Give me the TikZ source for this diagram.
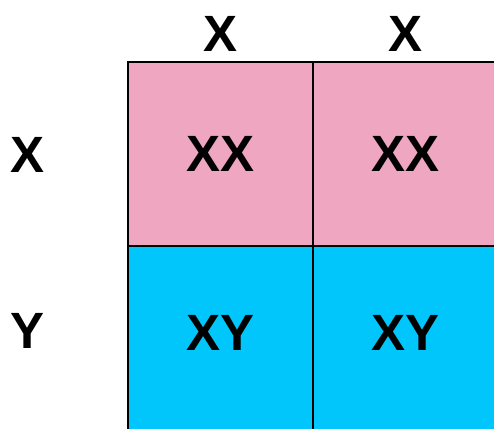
\documentclass[tikz,border=0pt]{standalone}
\usepackage{fontspec}
\setmainfont{Liberation Sans}
\usetikzlibrary{positioning}
\definecolor{FemalePink}{HTML}{EFA6C1}
\definecolor{MaleCyan}{HTML}{00C6FB}
\begin{document}
\begin{tikzpicture}[x=1pt,y=1pt,
    cell/.style={draw=black,line width=1.3pt,outer sep=0pt,inner sep=0pt,
                 minimum width=185pt,minimum height=184pt,
                 font=\fontsize{51}{51}\selectfont\bfseries},
    allele/.style={inner sep=0pt,font=\fontsize{51}{51}\selectfont\bfseries}]
  \useasboundingbox (0,0) rectangle (494,428);
  % offspring cells
  \node[cell,fill=FemalePink] (xxa) at (220.5,274) {XX};
  \node[cell,fill=FemalePink,right=0pt of xxa] (xxb) {XX};
  \node[cell,fill=MaleCyan,below=0pt of xxa] (xya) {\raisebox{11pt}{XY}};
  \node[cell,fill=MaleCyan,below=0pt of xxb] (xyb) {\raisebox{11pt}{XY}};
  % parent alleles
  \node[allele] (topa) at (221,394) {X};
  \node[allele] (topb) at (405,394) {X};
  \node[allele] (lefta) at (28,273) {X};
  \node[allele] (leftb) at (28,97) {Y};
\end{tikzpicture}
\end{document}
